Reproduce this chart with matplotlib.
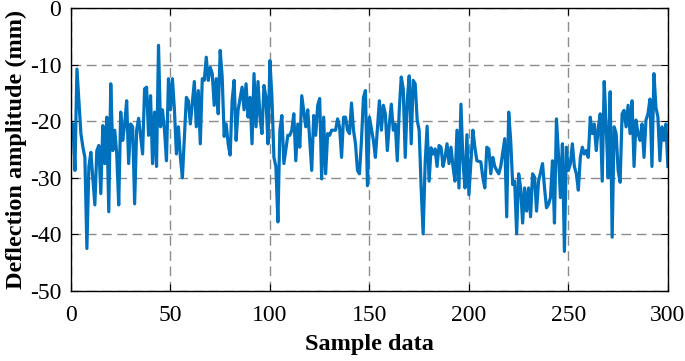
import numpy as np
import matplotlib
matplotlib.use("Agg")
import matplotlib.pyplot as plt

# sample index and deflection (mm)
sample = [0, 1, 2, 3, 5, 6, 7, 8, 9, 10, 12, 13, 14, 15, 16, 17, 18, 19, 20, 21,
          22, 23, 24, 25, 26, 27, 28, 29, 30, 31, 32, 33, 34, 36, 37, 38, 39, 40, 41, 42,
          43, 44, 45, 46, 47, 48, 49, 50, 51, 52, 53, 54, 55, 56, 58, 59, 60, 62, 63, 64,
          65, 66, 67, 68, 69, 70, 71, 72, 73, 74, 75, 76, 77, 78, 79, 80, 81, 82, 83, 84,
          86, 87, 88, 89, 90, 91, 92, 93, 94, 95, 96, 97, 98, 99, 100, 101, 102, 103, 104, 105,
          106, 107, 109, 110, 111, 112, 113, 114, 115, 116, 118, 119, 120, 121, 122, 123, 124, 125, 126, 127,
          128, 129, 130, 131, 133, 134, 135, 136, 137, 138, 139, 140, 141, 142, 143, 144, 145, 146, 147, 148,
          149, 150, 152, 153, 155, 156, 157, 158, 159, 160, 161, 162, 163, 164, 165, 166, 167, 168, 169, 170,
          171, 172, 173, 174, 175, 176, 177, 178, 179, 180, 181, 182, 183, 184, 185, 186, 187, 188, 189, 190,
          191, 192, 193, 194, 195, 196, 197, 198, 199, 200, 202, 203, 204, 206, 207, 208, 209, 210, 211, 212,
          213, 214, 215, 216, 218, 219, 220, 221, 222, 223, 224, 225, 226, 227, 228, 229, 230, 231, 232, 233,
          234, 235, 237, 238, 239, 240, 241, 242, 243, 244, 245, 246, 247, 248, 249, 250, 251, 252, 253, 254,
          255, 256, 257, 258, 259, 260, 261, 262, 263, 264, 265, 266, 267, 268, 269, 270, 271, 272, 273, 274,
          275, 276, 277, 278, 279, 280, 281, 282, 283, 284, 285, 286, 287, 288, 289, 290, 291, 292, 293, 294,
          295, 296, 297, 298, 299, 300]
deflection = [-20.5, -20.5, -28.7, -10.8, -22.2, -24.6, -26.4, -42.5, -28.0, -25.5, -34.8, -25.2, -24.3, -32.8, -20.8, -27.5, -19.3, -36.0, -13.4, -25.2,
              -21.6, -25.8, -34.8, -18.4, -23.4, -20.5, -16.4, -27.5, -20.5, -21.0, -34.6, -21.6, -19.5, -25.8, -14.3, -14.0, -22.5, -15.5, -27.5, -18.4,
              -28.0, -6.6, -21.0, -18.0, -21.6, -27.0, -12.5, -18.0, -12.5, -18.0, -25.8, -21.0, -26.4, -30.0, -15.8, -16.4, -20.5, -13.0, -21.0, -14.6,
              -24.0, -12.5, -12.8, -8.7, -12.8, -10.5, -11.6, -17.2, -12.5, -18.7, -7.5, -12.2, -22.7, -20.5, -24.0, -26.0, -16.4, -12.8, -23.4, -18.0,
              -14.0, -18.0, -13.4, -19.3, -15.8, -24.0, -11.6, -21.0, -13.0, -19.3, -22.2, -13.7, -15.8, -24.0, -9.3, -15.8, -26.4, -28.0, -37.8, -21.6,
              -19.0, -27.5, -22.5, -22.5, -21.6, -18.7, -27.0, -20.5, -24.6, -15.5, -21.0, -18.0, -23.4, -28.7, -19.0, -22.5, -17.2, -16.0, -30.2, -19.3,
              -29.3, -22.2, -22.5, -21.6, -21.6, -19.6, -21.0, -26.4, -19.3, -19.3, -21.6, -22.2, -16.8, -21.6, -24.0, -28.7, -29.3, -23.4, -15.8, -14.6,
              -31.4, -19.3, -23.4, -26.4, -16.4, -21.6, -17.2, -18.7, -25.2, -20.5, -17.0, -21.6, -20.5, -27.0, -18.0, -12.2, -14.3, -26.4, -16.4, -12.0,
              -24.0, -12.8, -13.4, -19.8, -21.6, -31.8, -39.9, -27.5, -20.9, -30.6, -24.7, -25.8, -24.9, -28.0, -24.3, -24.6, -28.0, -26.4, -24.0, -27.5,
              -24.6, -28.0, -30.6, -21.6, -31.8, -17.0, -27.0, -31.8, -22.4, -33.0, -21.6, -24.6, -27.0, -27.2, -30.0, -31.8, -24.6, -24.9, -29.3, -26.4,
              -28.0, -28.7, -29.3, -28.0, -23.1, -36.9, -18.4, -23.4, -31.2, -30.6, -39.9, -29.3, -31.8, -38.0, -31.8, -35.9, -31.8, -36.9, -29.3, -29.9,
              -35.9, -30.6, -27.5, -31.8, -35.3, -34.7, -33.5, -27.0, -38.0, -19.6, -25.8, -33.5, -24.0, -43.0, -24.6, -28.7, -27.5, -24.0, -28.0, -29.3,
              -32.2, -26.4, -24.6, -25.8, -25.2, -26.4, -19.3, -22.2, -20.5, -25.2, -21.2, -18.7, -30.6, -13.0, -21.0, -30.0, -14.8, -40.5, -21.0, -22.2,
              -28.7, -30.8, -18.7, -18.1, -21.0, -17.2, -22.2, -16.4, -28.0, -19.8, -22.2, -23.4, -20.5, -26.4, -19.8, -18.7, -16.1, -28.0, -11.6, -17.6,
              -19.3, -27.0, -21.0, -23.4, -20.5, -28.0]

xticks = [0, 50, 100, 150, 200, 250, 300]
yticks = [0, -10, -20, -30, -40, -50]

plt.rcParams['font.family'] = ['Liberation Serif', 'DejaVu Serif']

fig = plt.figure(figsize=(6.85, 3.61), dpi=100)
ax = fig.add_axes([0.1036, 0.194, 0.8714, 0.784])

ax.plot(sample, deflection, color='#0072BD', linewidth=2.3)

ax.set_xlim(0, 300)
ax.set_ylim(-50, 0)
ax.set_xticks(xticks)
ax.set_yticks(yticks)
ax.set_yticklabels([str(t) for t in yticks])
ax.tick_params(direction='in', length=5, width=0.8, labelsize=17,
               top=True, right=True, colors='black')
ax.tick_params(axis='x', pad=10)
ax.tick_params(axis='y', pad=7)
ax.grid(True, linestyle=(0, (7, 4)), color='#8c8c8c', linewidth=1.0)
for sp in ax.spines.values():
    sp.set_linewidth(1.0)
    sp.set_color('black')

ax.set_xlabel('Sample data', fontsize=17.5, fontweight='bold', labelpad=6)
ax.set_ylabel('Deflection amplitude (mm)', fontsize=17.5, fontweight='bold', labelpad=2)

fig.savefig('out.png', dpi=100)
